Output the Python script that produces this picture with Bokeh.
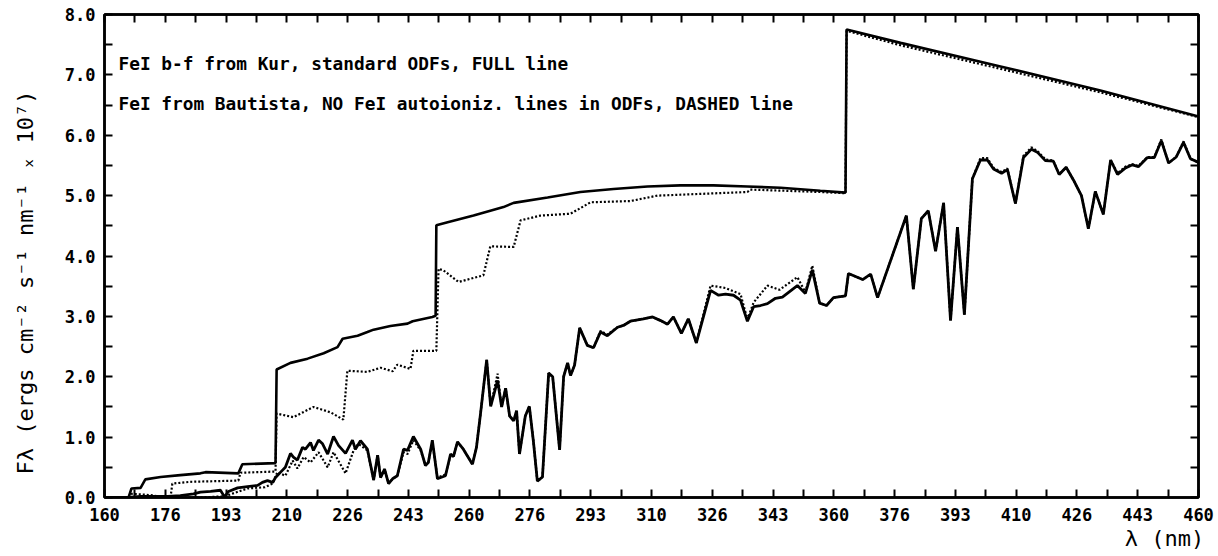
import numpy as np
from bokeh.plotting import figure
from bokeh.models import Range1d, FixedTicker, LinearAxis, Label, Title
from bokeh.embed import file_html
from bokeh.resources import INLINE

# ---------------- data ----------------
cont_full_x = [160.0, 166.6, 167.4, 169.9, 171.2, 175.4, 180.8, 186.3, 187.7, 196.7, 197.8, 206.9,
               207.2, 211.0, 215.7, 220.1, 223.9, 225.3, 229.4, 232.1, 233.8, 238.4, 243.1, 244.5,
               249.9, 250.8, 251.0, 254.1, 261.2, 265.8, 269.4, 272.2, 281.5, 290.5, 299.6, 308.9,
               317.9, 327.0, 336.3, 345.4, 356.3, 363.2, 363.5, 378.3, 405.7, 433.1, 460.0]
cont_full_y = [0.00, 0.00, 0.15, 0.16, 0.30, 0.34, 0.37, 0.40, 0.42, 0.40, 0.55, 0.57,
               2.12, 2.23, 2.30, 2.39, 2.49, 2.63, 2.68, 2.74, 2.78, 2.84, 2.88, 2.92,
               2.99, 3.01, 4.51, 4.56, 4.67, 4.75, 4.81, 4.88, 4.97, 5.06, 5.11, 5.15,
               5.17, 5.17, 5.15, 5.13, 5.08, 5.05, 7.75, 7.53, 7.14, 6.74, 6.31]

cont_dash_x = [160.0, 166.6, 167.4, 172.6, 176.7, 178.1, 178.6, 183.6, 196.7, 197.3, 206.9, 207.2,
               211.8, 217.3, 222.0, 225.5, 226.6, 232.1, 235.7, 239.0, 240.3, 243.9, 244.7, 251.0,
               251.6, 253.0, 257.1, 263.9, 265.8, 272.2, 274.1, 279.6, 287.8, 293.3, 304.2, 311.6,
               336.3, 337.1, 356.3, 363.2, 363.5, 378.3, 405.7, 433.1, 460.0]
cont_dash_y = [0.00, 0.00, 0.06, 0.04, 0.00, 0.00, 0.23, 0.26, 0.28, 0.41, 0.43, 1.39,
               1.33, 1.50, 1.41, 1.29, 2.10, 2.08, 2.15, 2.09, 2.20, 2.13, 2.43, 2.43,
               3.79, 3.76, 3.57, 3.68, 4.16, 4.15, 4.59, 4.67, 4.70, 4.89, 4.91, 5.00,
               5.06, 5.10, 5.06, 5.04, 7.73, 7.49, 7.10, 6.71, 6.30]

flux_full_x = [160.0, 166.6, 169.9, 174.0, 177.3, 180.8, 184.4, 186.3, 189.1, 191.8, 192.9, 194.0,
               196.5, 199.2, 202.0, 203.3, 204.7, 206.1, 206.9, 208.3, 209.6, 211.0, 211.8, 212.9,
               214.3, 215.1, 216.5, 217.3, 218.7, 219.8, 221.2, 222.8, 224.2, 226.1, 228.0, 228.8,
               230.2, 232.1, 233.8, 234.9, 235.7, 236.8, 237.9, 239.0, 240.3, 242.0, 243.1, 244.7,
               246.7, 248.0, 248.8, 249.9, 251.3, 253.5, 254.9, 255.7, 256.8, 258.4, 260.9, 262.0,
               263.1, 264.8, 265.9, 267.8, 268.9, 270.0, 271.1, 272.2, 273.0, 273.8, 275.4, 276.5,
               277.6, 278.7, 280.1, 281.8, 282.9, 284.8, 285.9, 287.0, 287.8, 288.9, 290.3, 292.4,
               294.1, 296.0, 297.9, 300.7, 302.3, 304.2, 307.8, 310.3, 312.5, 314.4, 316.0, 318.2,
               320.1, 322.3, 326.2, 328.4, 330.3, 332.5, 334.4, 336.3, 338.0, 339.9, 341.8, 344.0,
               345.9, 350.0, 352.2, 354.1, 356.1, 358.0, 359.9, 363.2, 364.0, 367.9, 370.1, 372.0,
               379.9, 381.8, 384.0, 385.9, 387.9, 390.1, 392.0, 393.9, 395.8, 398.0, 400.2, 402.1,
               403.8, 406.0, 407.6, 409.8, 412.0, 414.2, 415.8, 418.0, 420.2, 421.8, 423.7, 425.7,
               427.9, 429.8, 431.7, 433.9, 435.9, 437.8, 440.0, 441.9, 443.5, 446.0, 447.9, 449.8,
               451.8, 453.9, 455.9, 457.8, 460.0]
flux_full_y = [0.00, 0.00, 0.02, 0.02, 0.02, 0.03, 0.06, 0.09, 0.10, 0.12, 0.01, 0.10,
               0.16, 0.18, 0.20, 0.25, 0.28, 0.25, 0.33, 0.42, 0.50, 0.73, 0.67, 0.62,
               0.83, 0.80, 0.91, 0.78, 0.95, 0.89, 0.72, 1.01, 0.86, 0.73, 0.95, 0.80,
               0.94, 0.80, 0.29, 0.70, 0.33, 0.47, 0.23, 0.31, 0.36, 0.80, 0.78, 1.01,
               0.80, 0.53, 0.58, 0.95, 0.31, 0.36, 0.72, 0.68, 0.92, 0.80, 0.55, 0.83,
               1.38, 2.28, 1.51, 1.94, 1.50, 1.81, 1.35, 1.27, 1.44, 0.72, 1.35, 1.51,
               0.94, 0.27, 0.34, 2.06, 2.00, 0.79, 2.00, 2.23, 2.02, 2.19, 2.81, 2.52,
               2.48, 2.74, 2.68, 2.82, 2.85, 2.92, 2.96, 2.99, 2.93, 2.87, 2.99, 2.72,
               2.96, 2.56, 3.43, 3.35, 3.37, 3.35, 3.27, 2.92, 3.16, 3.18, 3.21, 3.30,
               3.32, 3.51, 3.38, 3.77, 3.22, 3.18, 3.31, 3.34, 3.71, 3.61, 3.70, 3.31,
               4.67, 3.45, 4.62, 4.75, 4.08, 4.88, 2.93, 4.48, 3.03, 5.28, 5.59, 5.59,
               5.44, 5.37, 5.43, 4.87, 5.63, 5.77, 5.72, 5.58, 5.57, 5.35, 5.47, 5.26,
               5.00, 4.45, 5.07, 4.69, 5.59, 5.35, 5.46, 5.51, 5.48, 5.63, 5.63, 5.91,
               5.54, 5.64, 5.88, 5.61, 5.55]

flux_dash_x = [160.0, 166.6, 186.3, 193.0, 199.2, 204.0, 206.1, 207.4, 209.6, 211.6, 212.9, 214.6,
               216.5, 218.7, 221.2, 222.8, 226.1, 228.3, 229.6, 232.1, 233.8, 234.9, 235.7, 236.8,
               237.9, 239.0, 240.3, 242.0, 243.1, 244.7, 246.7, 248.0, 248.8, 249.9, 251.3, 253.5,
               254.9, 255.7, 256.8, 258.4, 260.9, 262.0, 263.1, 264.8, 265.9, 267.8, 268.9, 270.0,
               271.1, 272.2, 273.0, 273.8, 275.4, 276.5, 277.6, 278.7, 280.1, 281.8, 282.9, 284.8,
               285.9, 287.0, 287.8, 288.9, 290.3, 292.4, 294.1, 296.0, 297.9, 300.7, 302.3, 304.2,
               307.8, 310.3, 312.5, 314.4, 316.0, 318.2, 320.1, 322.3, 326.2, 330.3, 334.4, 336.3,
               338.0, 341.8, 345.1, 350.0, 352.2, 354.1, 356.1, 358.0, 359.9, 363.2, 364.0, 367.9,
               370.1, 372.0, 379.9, 381.8, 384.0, 385.9, 387.9, 390.1, 392.0, 393.9, 395.8, 398.0,
               400.2, 402.1, 403.8, 406.0, 407.6, 409.8, 412.0, 414.2, 415.8, 418.0, 420.2, 421.8,
               423.7, 425.7, 427.9, 429.8, 431.7, 433.9, 435.9, 437.8, 440.0, 441.9, 443.5, 446.0,
               447.9, 449.8, 451.8, 453.9, 455.9, 457.8, 460.0]
flux_dash_y = [0.00, 0.00, 0.00, 0.02, 0.15, 0.17, 0.23, 0.42, 0.36, 0.61, 0.48, 0.67,
               0.58, 0.75, 0.50, 0.75, 0.40, 0.78, 0.89, 0.78, 0.29, 0.70, 0.33, 0.47,
               0.23, 0.31, 0.36, 0.75, 0.72, 0.95, 0.78, 0.53, 0.58, 0.92, 0.33, 0.38,
               0.70, 0.68, 0.92, 0.80, 0.55, 0.83, 1.38, 2.28, 1.51, 2.05, 1.50, 1.81,
               1.35, 1.27, 1.44, 0.72, 1.35, 1.51, 0.94, 0.27, 0.34, 2.06, 2.00, 0.79,
               2.00, 2.23, 2.02, 2.19, 2.81, 2.52, 2.48, 2.76, 2.70, 2.82, 2.85, 2.92,
               2.96, 2.99, 2.93, 2.87, 2.99, 2.72, 2.96, 2.56, 3.51, 3.47, 3.37, 2.95,
               3.23, 3.51, 3.44, 3.65, 3.40, 3.84, 3.22, 3.18, 3.31, 3.34, 3.71, 3.61,
               3.70, 3.31, 4.67, 3.45, 4.62, 4.75, 4.08, 4.88, 2.93, 4.48, 3.03, 5.28,
               5.62, 5.62, 5.46, 5.39, 5.45, 4.87, 5.66, 5.80, 5.74, 5.60, 5.58, 5.35,
               5.47, 5.26, 5.00, 4.45, 5.07, 4.69, 5.59, 5.37, 5.48, 5.52, 5.49, 5.64,
               5.64, 5.93, 5.54, 5.64, 5.90, 5.61, 5.55]

x_tick_labels = ["160", "176", "193", "210", "226", "243", "260", "276", "293", "310",
                 "326", "343", "360", "376", "393", "410", "426", "443", "460"]
y_tick_labels = ["0.0", "1.0", "2.0", "3.0", "4.0", "5.0", "6.0", "7.0", "8.0"]
legend_texts = ["FeI b-f from Kur, standard ODFs, FULL line",
                "FeI from Bautista, NO FeI autoioniz. lines in ODFs, DASHED line"]
x_label = "\u03bb  (nm)"
y_label = "F\u03bb (ergs cm\u207b\u00b2 s\u207b\u00b9 nm\u207b\u00b9 \u2093 10\u2077)"

# ---------------- layout ----------------
W, H = 1218, 556
BL, BR, BT, BB = 104, 20, 14, 59
X0, X1 = 160.0, 460.0
Y0, Y1 = 0.0, 8.0
FW, FH = W - BL - BR, H - BT - BB

def sx_to_x(px):
    return X0 + (px - BL) * (X1 - X0) / FW

def sy_to_y(py):
    return Y0 + (H - BB - py) * (Y1 - Y0) / FH

MONO = "DejaVu Sans Mono"

p = figure(width=W, height=H, output_backend="svg", toolbar_location=None,
           x_range=Range1d(X0, X1), y_range=Range1d(Y0, Y1),
           min_border_left=BL, min_border_right=BR, min_border_top=BT, min_border_bottom=BB,
           x_axis_location=None, y_axis_location=None)
p.grid.visible = False
p.background_fill_color = "white"
p.border_fill_color = "white"
p.outline_line_color = "black"
p.outline_line_width = 2.5

x_major = list(np.linspace(X0, X1, len(x_tick_labels)))
x_minor = [t + (x_major[1] - x_major[0]) / 2 for t in x_major[:-1]]
y_major = [float(v) for v in range(0, len(y_tick_labels))]
y_minor = [v + 0.5 for v in y_major[:-1]]

def style_axis(ax):
    ax.axis_line_width = 2.5
    ax.axis_line_color = "black"
    ax.major_tick_in = 8
    ax.major_tick_out = 0
    ax.minor_tick_in = 8
    ax.minor_tick_out = 0
    ax.major_tick_line_width = 2
    ax.minor_tick_line_width = 2
    ax.major_tick_line_color = "black"
    ax.minor_tick_line_color = "black"
    ax.major_label_text_font = MONO
    ax.major_label_text_font_style = "bold"
    ax.major_label_text_font_size = "17px"
    ax.major_label_text_color = "black"

# bottom axis with labels
xb = LinearAxis(ticker=FixedTicker(ticks=x_major, minor_ticks=x_minor))
xb.major_label_overrides = {float(t): lbl for t, lbl in zip(x_major, x_tick_labels)}
style_axis(xb)
xb.major_label_standoff = 10
p.add_layout(xb, "below")

# top axis: ticks only (all ticks as minor ticks -> no labels)
xt = LinearAxis(ticker=FixedTicker(ticks=[], minor_ticks=x_major + x_minor))
style_axis(xt)
xt.major_label_standoff = 0
p.add_layout(xt, "above")

# left axis with labels + axis title
yl = LinearAxis(ticker=FixedTicker(ticks=y_major, minor_ticks=y_minor))
yl.major_label_overrides = {float(t): lbl for t, lbl in zip(y_major, y_tick_labels)}
style_axis(yl)
yl.major_label_standoff = 9
yl.axis_label = y_label + "\u00a0" * 4
yl.axis_label_text_font = MONO
yl.axis_label_text_font_style = "normal"
yl.axis_label_text_font_size = "22px"
yl.axis_label_text_color = "black"
yl.axis_label_standoff = 24
p.add_layout(yl, "left")

# right axis: ticks only
yr = LinearAxis(ticker=FixedTicker(ticks=[], minor_ticks=y_major + y_minor))
style_axis(yr)
yr.major_label_standoff = 0
p.add_layout(yr, "right")

# x axis title, right aligned under the frame
p.add_layout(Title(text=x_label, align="right", text_font=MONO, text_font_style="normal",
                   text_font_size="22px", text_color="black", standoff=0, offset=-19), "below")

# ---------------- curves ----------------
p.line(cont_full_x, cont_full_y, line_color="black", line_width=2.6)
p.line(flux_full_x, flux_full_y, line_color="black", line_width=2.8)
p.line(cont_dash_x, cont_dash_y, line_color="black", line_width=2.2, line_dash="2 2")
p.line(flux_dash_x, flux_dash_y, line_color="black", line_width=2.2, line_dash="2 2")

# ---------------- legend texts ----------------
for txt, py in zip(legend_texts, [63, 103]):
    p.add_layout(Label(x=sx_to_x(118), y=sy_to_y(py), text=txt, text_font=MONO,
                       text_font_style="bold", text_font_size="17.8px",
                       text_baseline="middle", text_align="left", text_color="black"))

open("out.html", "w").write(file_html(p, INLINE))
